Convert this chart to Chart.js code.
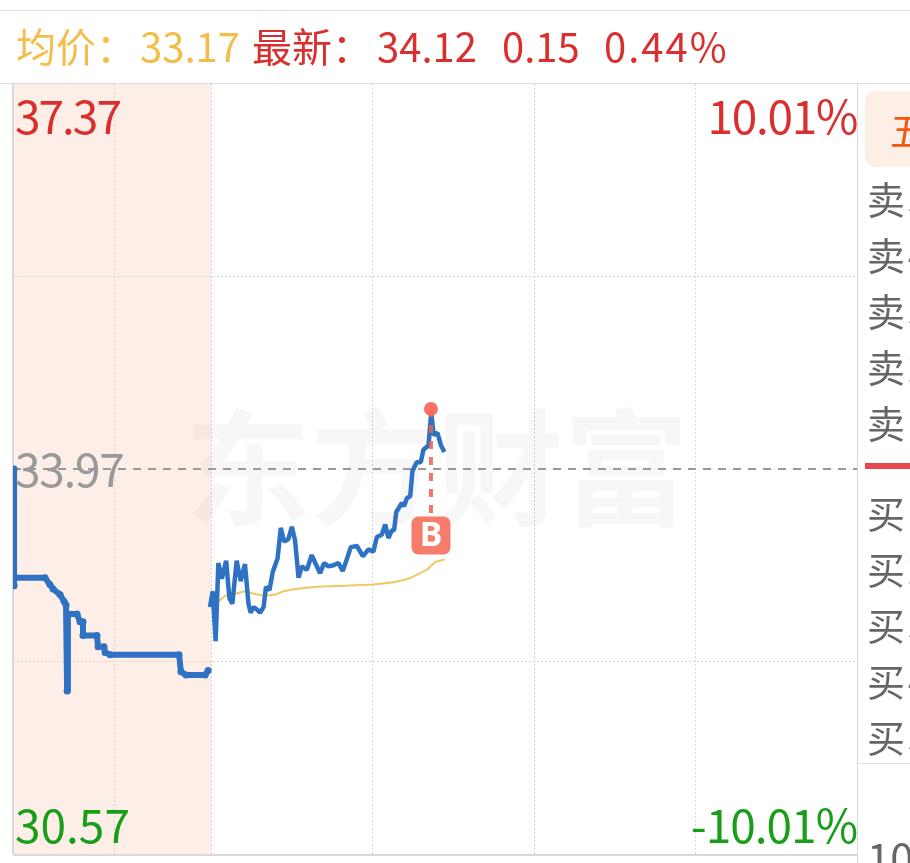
<!DOCTYPE html>
<html>
<head>
<meta charset="utf-8">
<script src="https://cdn.jsdelivr.net/npm/chart.js@4"></script>
<style>
html, body { margin: 0; padding: 0; background: #fff; overflow: hidden; }
#page { position: relative; width: 910px; height: 863px; overflow: hidden; font-family: "Noto Sans CJK SC", sans-serif; }
#page canvas { position: absolute; left: 0; top: 0; }
.t { position: absolute; white-space: nowrap; line-height: 1; }
.head { font-size: 40px; top: 25px; }
.side { font-size: 38px; left: 867px; color: #666; letter-spacing: 3px; }
.rule { position: absolute; background: #ddd; }
</style>
</head>
<body>
<div id="page">
  <canvas id="chart" width="910" height="863"></canvas>
  <div class="rule" style="left:0;top:10px;width:910px;height:1px"></div>
  <div class="rule" style="left:0;top:83px;width:910px;height:1px"></div>
  <div class="rule" style="left:857px;top:763px;width:53px;height:1px"></div>
  <span class="t head" style="left:16px;color:#f2bd4a">均价：</span>
  <span class="t head" style="left:140px;color:#f2bd4a">33.17</span>
  <span class="t head" style="left:252px;color:#d9302f">最新：</span>
  <span class="t head" style="left:377px;color:#d9302f">34.12</span>
  <span class="t head" style="left:502px;color:#d9302f">0.15</span>
  <span class="t head" style="left:604px;color:#d9302f;letter-spacing:2px">0.44%</span>
  <div style="position:absolute;left:865px;top:91px;width:70px;height:76px;background:#fdeee6;border-radius:10px"></div>
  <span class="t" style="left:890px;top:110px;font-size:38px;color:#f0590f">五档</span>
  <span class="t side" style="top:179px">卖5</span>
  <span class="t side" style="top:235px">卖4</span>
  <span class="t side" style="top:291px">卖3</span>
  <span class="t side" style="top:347px">卖2</span>
  <span class="t side" style="top:403px">卖1</span>
  <div style="position:absolute;left:865px;top:463px;width:45px;height:6px;background:#e5484d"></div>
  <span class="t side" style="top:493px">买1</span>
  <span class="t side" style="top:549px">买2</span>
  <span class="t side" style="top:605px">买3</span>
  <span class="t side" style="top:661px">买4</span>
  <span class="t side" style="top:717px">买5</span>
  <span class="t side" style="top:835px;font-size:42px;letter-spacing:0">100</span>
</div>
<script>
// pre-market auction, minutes before the open
const preMinutes = [-73.2, -73.2, -73.2, -61.7, -59.9, -58.7, -56.1, -54.6, -53.9, -53.5, -53.2, -49.8, -48.7, -47.6, -47.6, -42.4, -42.0, -39.8, -39.4, -37.5, -11.9, -11.2, -9.3, -2.2, -1.1];
const prePrices = [33.97, 32.94, 33.01, 33.01, 32.95, 32.91, 32.86, 32.80, 32.77, 32.01, 32.69, 32.69, 32.62, 32.62, 32.50, 32.50, 32.40, 32.40, 32.35, 32.33, 32.33, 32.18, 32.15, 32.15, 32.19];

// trading session, minutes after the open
const tradeMinutes = [-0.4, 0.6, 1.7, 2.7, 4.0, 5.6, 6.8, 7.9, 9.5, 11.0, 12.6, 13.9, 14.7, 15.7, 17.0, 18.2, 19.5, 20.4, 21.7, 22.9, 24.7, 25.9, 27.1, 28.7, 30.0, 31.2, 32.5, 33.7, 35.6, 37.4, 38.7, 40.5, 42.0, 43.6, 45.5, 47.3, 48.9, 50.4, 51.9, 54.2, 56.4, 58.5, 60.3, 61.6, 63.4, 64.7, 65.9, 67.2, 68.0, 68.8, 70.9, 71.7, 72.7, 74.0, 74.8, 76.4, 77.9, 78.9, 80.8, 81.8, 82.7, 84.1, 85.4, 86.7];
const tradePrices = [32.75, 32.89, 32.45, 33.14, 33.00, 33.16, 32.83, 32.78, 33.16, 32.98, 33.13, 32.78, 32.70, 32.75, 32.73, 32.70, 32.75, 32.93, 32.90, 33.06, 33.18, 33.45, 33.33, 33.35, 33.46, 33.34, 33.01, 33.11, 33.08, 33.21, 33.14, 33.05, 33.14, 33.11, 33.12, 33.14, 33.07, 33.17, 33.28, 33.29, 33.20, 33.26, 33.24, 33.37, 33.39, 33.48, 33.36, 33.43, 33.43, 33.59, 33.67, 33.64, 33.71, 33.73, 33.95, 34.03, 34.03, 34.14, 34.18, 34.47, 34.27, 34.29, 34.18, 34.12];

const avgMinutes = [0.6, 2.7, 5.2, 9.5, 12.6, 15.7, 19.5, 23.8, 26.9, 31.2, 39.3, 49.2, 60.3, 67.8, 73.4, 80.2, 83.3, 86.7];
const avgPrices = [32.90, 32.80, 32.85, 32.87, 32.89, 32.87, 32.85, 32.86, 32.89, 32.91, 32.93, 32.94, 32.95, 32.97, 33.00, 33.08, 33.15, 33.17];

const prevClose = 33.97;
const priceMax = 37.37;
const priceMin = 30.57;
const timeMin = -73.6;
const timeMax = 240;
const priceGridLines = [35.67, 32.27];
const timeGridLines = [-36, 0, 60, 120, 180];
const upPercent = '10.01%';
const downPercent = '-10.01%';

// buy marker
const buyMinute = 81.7;
const buyPrice = 34.50;
const buyBadgePrice = 33.55;

const blue = '#2f72c4';
const red = '#d9302f';
const green = '#1a9e1a';

function pairs(xs, ys) {
    return xs.map((x, i) => ({ x: x, y: ys[i] }));
}

function roundedBox(ctx, x, y, w, h, r) {
    ctx.beginPath();
    ctx.roundRect(x, y, w, h, r);
    ctx.fill();
}

function drawLabel(ctx, text, x, y, color, spacing) {
    ctx.fillStyle = color;
    ctx.letterSpacing = spacing + 'px';
    ctx.fillText(text, x, y);
}

const backdrop = {
    id: 'backdrop',
    beforeDatasetsDraw(chart) {
        const ctx = chart.ctx;
        const a = chart.chartArea;
        const x = chart.scales.x;
        ctx.save();
        // pre-market shading sits over the grid, so keep it see-through
        ctx.fillStyle = 'rgba(250, 205, 185, 0.32)';
        ctx.fillRect(a.left, a.top, x.getPixelForValue(0) - a.left, a.bottom - a.top);
        // watermark
        ctx.fillStyle = 'rgba(0, 0, 0, 0.03)';
        ctx.font = 'bold 126px "Noto Sans CJK SC"';
        ctx.textAlign = 'center';
        ctx.textBaseline = 'middle';
        ctx.fillText('东方财富', 437, 468);
        // frame
        ctx.fillStyle = '#d8d8d8';
        ctx.fillRect(a.left - 1, a.top, 2, a.bottom - a.top);
        ctx.fillRect(a.right, 84, 1, 779);
        ctx.fillRect(a.left, a.bottom, a.right - a.left, 2);
        ctx.restore();
    }
};

const labels = {
    id: 'labels',
    afterDatasetsDraw(chart) {
        const ctx = chart.ctx;
        const a = chart.chartArea;
        const x = chart.scales.x;
        const y = chart.scales.y;
        const topY = y.getPixelForValue(priceMax) + 33;
        const bottomY = y.getPixelForValue(priceMin) - 28;
        ctx.save();
        ctx.font = '46px "Noto Sans CJK SC"';
        ctx.textBaseline = 'middle';

        ctx.textAlign = 'left';
        drawLabel(ctx, priceMax.toFixed(2), a.left + 2, topY, red, -2);
        drawLabel(ctx, priceMin.toFixed(2), a.left + 2, bottomY, green, 0);
        drawLabel(ctx, prevClose.toFixed(2), a.left + 2, y.getPixelForValue(prevClose) + 1, '#999', -1.3);

        ctx.textAlign = 'right';
        drawLabel(ctx, upPercent, a.right, topY, red, -1.3);
        drawLabel(ctx, downPercent, a.right, bottomY, green, -1);

        // B badge hangs under the dashed marker line
        const bx = x.getPixelForValue(buyMinute);
        const by = y.getPixelForValue(buyBadgePrice);
        ctx.fillStyle = '#f67c6c';
        roundedBox(ctx, bx - 19.5, by, 39, 38, 7);
        ctx.letterSpacing = '0px';
        ctx.fillStyle = '#fff';
        ctx.font = 'bold 34px "Noto Sans"';
        ctx.textAlign = 'center';
        ctx.fillText('B', bx, by + 20);
        ctx.restore();
    }
};

new Chart(document.getElementById('chart'), {
    type: 'line',
    data: {
        datasets: [
            {
                label: '买入',
                data: pairs([buyMinute, buyMinute], [buyPrice, buyBadgePrice]),
                borderColor: 'rgba(236, 96, 82, 0.85)',
                borderWidth: 4,
                borderDash: [8, 8],
                pointRadius: [7, 0],
                pointBackgroundColor: 'rgba(248, 105, 92, 0.95)',
                pointBorderWidth: 0,
                order: 0
            },
            {
                label: '盘前',
                data: pairs(preMinutes, prePrices),
                borderColor: blue,
                borderWidth: 6,
                borderCapStyle: 'round',
                borderJoinStyle: 'round',
                pointRadius: 3.5,
                pointBackgroundColor: blue,
                pointBorderWidth: 0,
                order: 1
            },
            {
                label: '最新',
                data: pairs(tradeMinutes, tradePrices),
                borderColor: blue,
                borderWidth: 4.5,
                borderJoinStyle: 'bevel',
                pointRadius: 0,
                order: 1
            },
            {
                label: '均价',
                data: pairs(avgMinutes, avgPrices),
                borderColor: '#efc862',
                borderWidth: 2,
                pointRadius: 0,
                order: 2
            },
            {
                label: '昨收',
                data: pairs([timeMin, timeMax], [prevClose, prevClose]),
                borderColor: '#999',
                borderWidth: 2,
                borderDash: [8, 7],
                pointRadius: 0,
                order: 3
            }
        ]
    },
    options: {
        responsive: false,
        animation: false,
        layout: { padding: { left: 13, right: 53, top: 84, bottom: 9 } },
        plugins: { legend: { display: false }, tooltip: { enabled: false } },
        scales: {
            x: {
                type: 'linear',
                min: timeMin,
                max: timeMax,
                afterBuildTicks: scale => { scale.ticks = timeGridLines.map(v => ({ value: v })); },
                ticks: { display: false },
                border: { display: false, dash: [2, 2] },
                grid: { color: '#d5d5d5', lineWidth: 1, drawTicks: false }
            },
            y: {
                min: priceMin,
                max: priceMax,
                afterBuildTicks: scale => { scale.ticks = priceGridLines.map(v => ({ value: v })); },
                ticks: { display: false },
                border: { display: false, dash: [2, 2] },
                grid: { color: '#d5d5d5', lineWidth: 1, drawTicks: false }
            }
        }
    },
    plugins: [backdrop, labels]
});
</script>
</body>
</html>
